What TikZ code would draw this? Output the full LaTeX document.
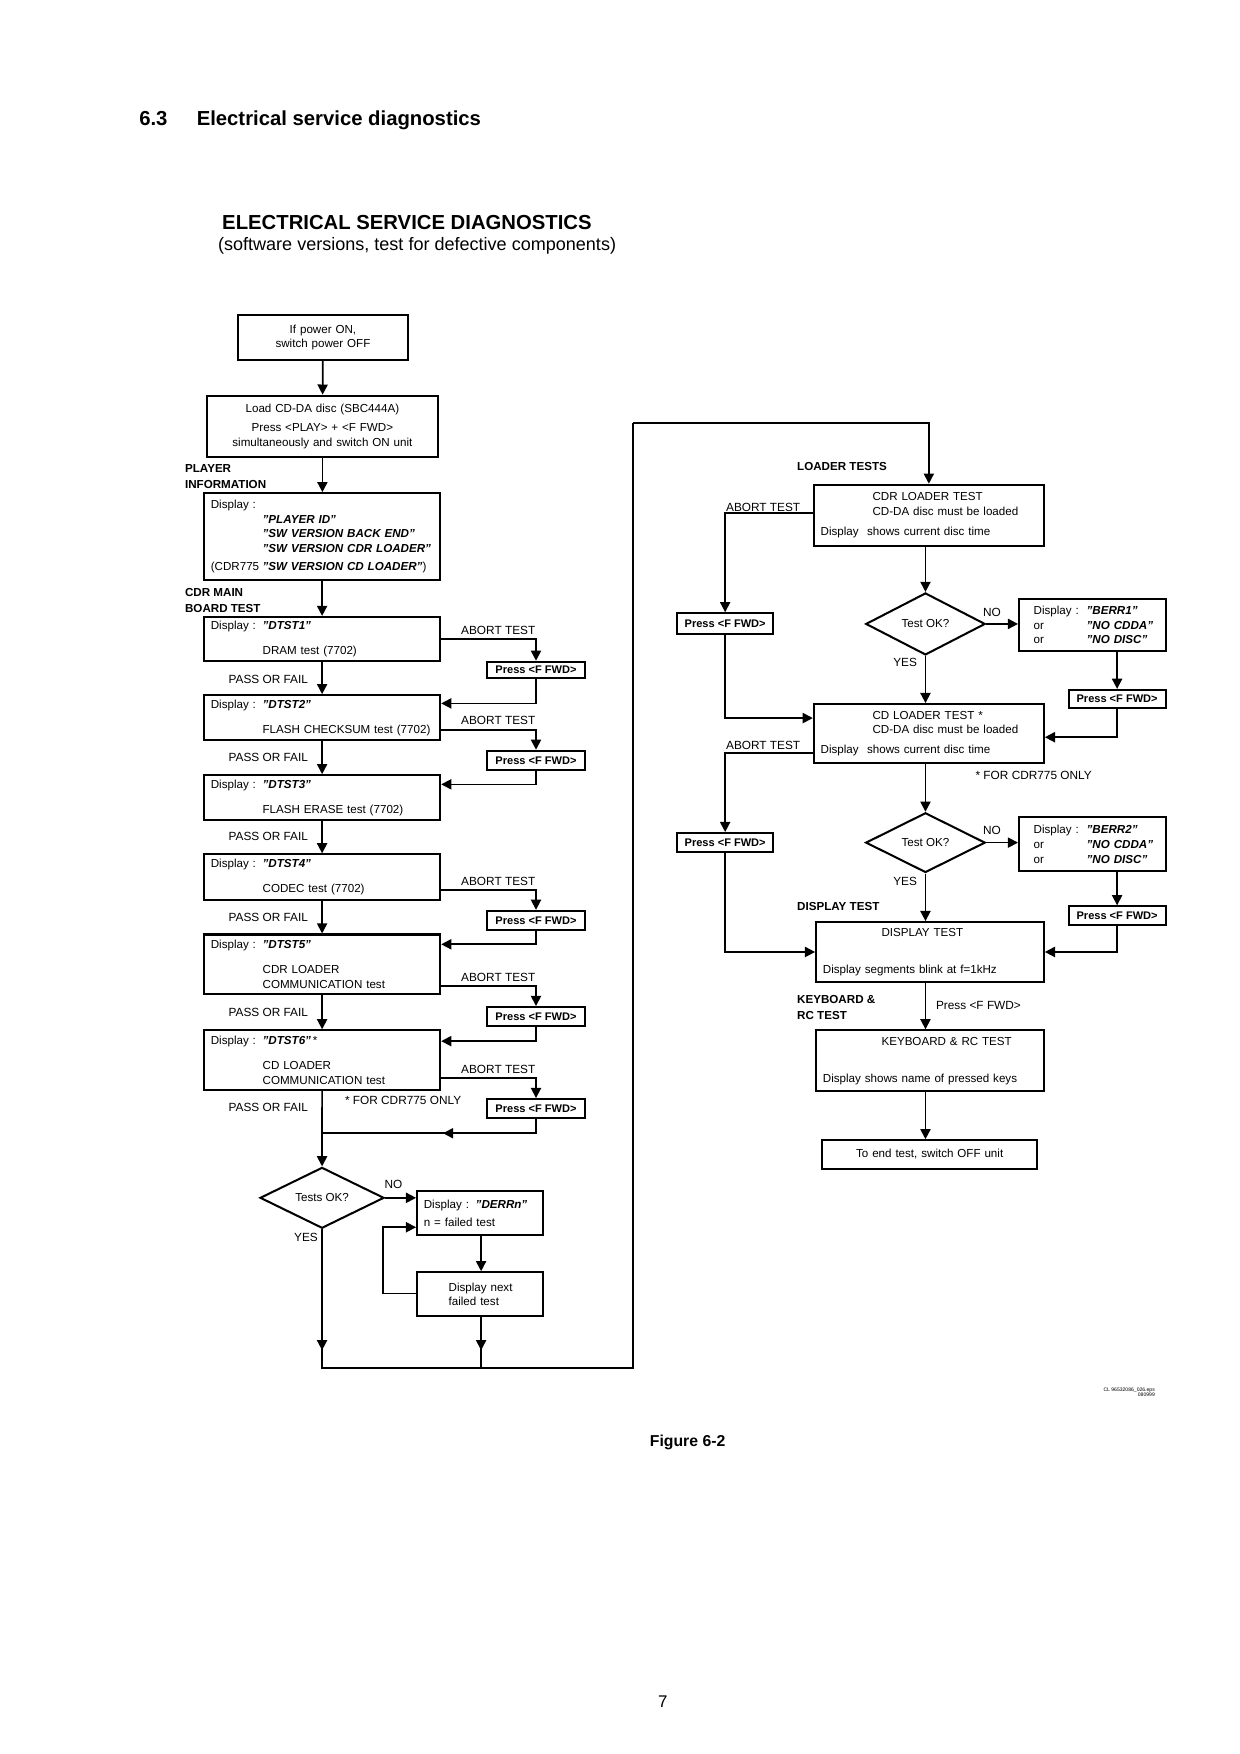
\documentclass[tikz,border=0pt]{standalone}
\usepackage{fontspec}
\setmainfont{Liberation Sans}
\usetikzlibrary{arrows.meta}
\usetikzlibrary{positioning,shapes.geometric,calc}
\tikzset{
    box/.style={
        draw,
        rectangle,
        line width=1.8pt,
        inner xsep=6pt,
        inner ysep=2pt,
        align=left,
        font=\fontsize{10.3}{13}\selectfont
    },
    pbox/.style={
        draw,
        rectangle,
        line width=1.8pt,
        inner sep=1pt,
        font=\bfseries\fontsize{9.8}{11}\selectfont
    },
    dec/.style={
        draw,
        diamond,
        aspect=2,
        line width=1.8pt,
        inner sep=0pt,
        font=\fontsize{10.3}{12}\selectfont
    },
    flow/.style={line width=1.5pt, -{Triangle[length=9pt,width=9pt]}},
    line/.style={line width=1.5pt},
    lbl/.style={font=\fontsize{10.5}{12}\selectfont, inner sep=0pt},
    blbl/.style={font=\bfseries\fontsize{10.3}{14.5}\selectfont, inner sep=0pt, align=left}
}
% box from (x1,y1) to (x2,y2)
\newcommand{\flbox}[7][]{%
    \pgfmathsetmacro{\bw}{#5-#3}\pgfmathsetmacro{\bh}{#6-#4}\pgfmathsetmacro{\tw}{#5-#3-12}%
    \node[box, minimum width=\bw pt, minimum height=\bh pt, text width=\tw pt, #1] (#2) at ({(#3+#5)/2},{(#4+#6)/2}) {#7};}
\newcommand{\qt}[1]{\textbf{\textit{"#1"}}}
\newcommand{\dsp}[2]{\makebox[46pt][l]{Display :}\qt{#1}\\[9pt]\hspace*{46pt}#2}
\newcommand{\berr}[1]{\hspace*{7pt}\makebox[47pt][l]{Display :}\qt{#1}\\ \hspace*{7pt}\makebox[47pt][l]{or}\qt{NO CDDA}\\ \hspace*{7pt}\makebox[47pt][l]{or}\qt{NO DISC}}

\begin{document}
\begin{tikzpicture}[x=1pt,y=-1pt]
    \useasboundingbox (0,0) rectangle (1100,1556);

    % Titles
    \node[anchor=west, font=\bfseries\fontsize{18}{20}\selectfont] (sec) at (120,107) {6.3\hspace{26pt}Electrical service diagnostics};
    \node[font=\bfseries\fontsize{18}{20}\selectfont] (head) at (361,197) {ELECTRICAL SERVICE DIAGNOSTICS};
    \node[font=\fontsize{16}{18}\selectfont] (sub) at (370,218) {(software versions, test for defective components)};

    % Left column
    \flbox[align=center]{pwr}{211}{279.5}{362}{319.5}{If power ON,\\ switch power OFF}
    \flbox[align=center]{load}{183.5}{351}{388.5}{405.5}{Load CD-DA disc (SBC444A)\\[4pt] Press <PLAY> + <F FWD>\\ simultaneously and switch ON unit}
    \flbox{pinfo}{181}{437.5}{390.5}{514.6}{Display :\\ \hspace*{46pt}\qt{PLAYER ID}\\ \hspace*{46pt}\qt{SW VERSION BACK END}\\ \hspace*{46pt}\qt{SW VERSION CDR LOADER}\\[3pt] (CDR775\hspace{3pt}\qt{SW VERSION CD LOADER})}
    \flbox{dt1}{181}{547.3}{390.5}{586.5}{\dsp{DTST1}{DRAM test (7702)}}
    \flbox{dt2}{181}{616.7}{390.5}{656.6}{\dsp{DTST2}{FLASH CHECKSUM test (7702)}}
    \flbox{dt3}{181}{687.7}{390.5}{727.6}{\dsp{DTST3}{FLASH ERASE test (7702)}}
    \flbox{dt4}{181}{757.9}{390.5}{798.6}{\dsp{DTST4}{CODEC test (7702)}}
    \flbox{dt5}{181}{829}{390.5}{882}{\dsp{DTST5}{CDR LOADER\\ \hspace*{46pt}COMMUNICATION test}}
    \flbox{dt6}{181}{914}{390.5}{967}{\makebox[46pt][l]{Display :}\qt{DTST6}\,*\\[9pt]\hspace*{46pt}CD LOADER\\ \hspace*{46pt}COMMUNICATION test}

    \node[pbox, minimum width=87pt, minimum height=14.7pt] (pa1) at (475.5,594.4) {Press <F FWD>};
    \node[pbox, minimum width=87pt, minimum height=17pt] (pa2) at (475.5,674.5) {Press <F FWD>};
    \node[pbox, minimum width=87pt, minimum height=17pt] (pa4) at (475.5,816.5) {Press <F FWD>};
    \node[pbox, minimum width=87pt, minimum height=16.7pt] (pa5) at (475.5,901.7) {Press <F FWD>};
    \node[pbox, minimum width=87pt, minimum height=17pt] (pa6) at (475.5,983.5) {Press <F FWD>};

    \node[blbl, anchor=west] (lpi) at (164,422.5) {PLAYER\\INFORMATION};
    \node[blbl, anchor=west] (lcm) at (164,532.5) {CDR MAIN\\BOARD TEST};
    \foreach \y in {603,671.5,741.6,813.5,897.8,982.6}
        \node[lbl] at (238,\y) {PASS OR FAIL};
    \foreach \y in {559,639.5,781.7,866.9,948.5}
        \node[lbl] at (442,\y) {ABORT TEST};
    \node[lbl] (n6) at (357.6,976) {* FOR CDR775 ONLY};

    \draw[flow] (pwr) -- (load);
    \draw[flow] (load) -- (pinfo.north -| load.south);
    \draw[flow] (pinfo) -- (dt1);
    \draw[flow] (dt1) -- (dt2);
    \draw[flow] (dt2) -- (dt3);
    \draw[flow] (dt3) -- (dt4);
    \draw[flow] (dt4) -- (dt5);
    \draw[flow] (dt5) -- (dt6);

    % abort branches
    \draw[flow] (dt1.east |- 0,567) -| (pa1.north);
    \draw[flow] (pa1.south) |- (dt2.east |- 0,624);
    \draw[flow] (dt2.east |- 0,647.7) -| (pa2.north);
    \draw[flow] (pa2.south) |- (dt3.east |- 0,695.8);
    \draw[flow] (dt4.east |- 0,789.7) -| (pa4.north);
    \draw[flow] (pa4.south) |- (dt5.east |- 0,837.7);
    \draw[flow] (dt5.east |- 0,874.6) -| (pa5.north);
    \draw[flow] (pa5.south) |- (dt6.east |- 0,923.6);
    \draw[flow] (dt6.east |- 0,956.6) -| (pa6.north);
    \coordinate (j6) at (286.6,1005.3);
    \draw[line] (pa6.south) |- (j6);
    \draw[flow] (pa6.south) |- (393,1005.3);

    % final check
    \node[dec, minimum width=110pt, minimum height=54pt] (tok) at (285.7,1062.6) {Tests OK?};
    \draw[flow] (dt6) -- (tok);
    \flbox{derr}{370}{1056.8}{481.8}{1095.8}{\makebox[46pt][l]{Display :}\qt{DERRn}\\[3pt] n = failed test}
    \flbox{dnext}{370}{1128.6}{481.8}{1167.7}{\hspace*{22pt}Display next\\ \hspace*{22pt}failed test}
    \draw[flow] (tok.east) -- (tok.east -| derr.west);
    \node[lbl] (no0) at (349,1050.6) {NO};
    \node[lbl] (yes0) at (271.5,1097.7) {YES};
    \draw[flow] (derr.south -| 426.8,0) -- (dnext.north -| 426.8,0);
    \draw[flow] (dnext.west |- 0,1147.5) -- (339.8,1147.5) |- (derr.west |- 0,1088.7);

    \coordinate (c1) at (285.7,1213.8);
    \coordinate (c2) at (561.7,1213.8);
    \coordinate (c3) at (561.7,375);
    \coordinate (c4) at (426.8,1213.8);
    \draw[line] (tok.south) -- (c1) -- (c2) -- (c3);
    \draw[flow] (tok.south) -- ([yshift=16pt]c1);
    \draw[line] (dnext.south -| c4) -- (c4);
    \draw[flow] (dnext.south -| c4) -- ([yshift=16pt]c4);

    % Right column
    \flbox{cdrl}{722}{430}{926}{484}{\hspace*{46pt}CDR LOADER TEST\\ \hspace*{46pt}CD-DA disc must be loaded\\[5pt] Display\hspace{4pt} shows current disc time}
    \flbox{cdl}{722}{624.6}{926}{677}{\hspace*{46pt}CD LOADER TEST *\\ \hspace*{46pt}CD-DA disc must be loaded\\[5pt] Display\hspace{4pt} shows current disc time}
    \flbox{dsp}{724}{818}{926}{871}{\hspace*{52pt}DISPLAY TEST\\[20pt] Display segments blink at f=1kHz}
    \flbox{kbd}{724}{914}{926}{968}{\hspace*{52pt}KEYBOARD \& RC TEST\\[20pt] Display shows name of pressed keys}
    \flbox[align=center]{endb}{729.5}{1011.5}{920}{1036.7}{To end test, switch OFF unit}
    \draw[flow] (c3) -| (cdrl.north);

    \node[dec, minimum width=106pt, minimum height=55pt] (tok1) at (821,553.5) {Test OK?};
    \node[dec, minimum width=106pt, minimum height=53pt] (tok2) at (821,747.5) {Test OK?};
    \flbox{berr1}{904}{531.5}{1034}{577.6}{\berr{BERR1}}
    \flbox{berr2}{904}{725}{1034}{773}{\berr{BERR2}}
    \node[pbox, minimum width=86pt, minimum height=16pt] (pr1) at (991,620) {Press <F FWD>};
    \node[pbox, minimum width=86pt, minimum height=17pt] (pr2) at (991,812.5) {Press <F FWD>};
    \node[pbox, minimum width=85.5pt, minimum height=18pt] (pl1) at (643.3,553) {Press <F FWD>};
    \node[pbox, minimum width=85.5pt, minimum height=17pt] (pl2) at (643.3,747.5) {Press <F FWD>};

    \node[blbl, anchor=west] (llt) at (707,414) {LOADER TESTS};
    \node[blbl, anchor=west] (ldt) at (707,804) {DISPLAY TEST};
    \node[blbl, anchor=west] (lkb) at (707,893.5) {KEYBOARD \&\\RC TEST};
    \node[lbl] at (677,450) {ABORT TEST};
    \node[lbl] at (677,661) {ABORT TEST};
    \node[lbl] (n2) at (917,688) {* FOR CDR775 ONLY};
    \node[lbl] at (880,543) {NO};
    \node[lbl] at (880,736.5) {NO};
    \node[lbl] at (803,588) {YES};
    \node[lbl] at (803,782) {YES};
    \node[lbl] (pk) at (868,892) {Press <F FWD>};

    \draw[flow] (cdrl.south -| tok1.north) -- (tok1);
    \draw[flow] (tok1.east) -- (tok1.east -| berr1.west);
    \draw[flow] (berr1.south -| pr1.north) -- (pr1);
    \draw[flow] (pr1.south) |- (cdl.east |- 0,654);
    \draw[flow] (tok1) -- (cdl.north -| tok1.south);
    \draw[flow] (cdrl.west |- 0,455) -| (pl1.north);
    \draw[flow] (pl1.south) |- (cdl.west |- 0,637);
    \draw[flow] (cdl.south -| tok2.north) -- (tok2);
    \draw[flow] (tok2.east) -- (tok2.east -| berr2.west);
    \draw[flow] (berr2.south -| pr2.north) -- (pr2);
    \draw[flow] (cdl.west |- 0,668) -| (pl2.north);
    \draw[flow] (pl2.south) |- (dsp.west |- 0,844.5);
    \draw[flow] (pr2.south) |- (dsp.east |- 0,844.5);
    \draw[flow] (tok2) -- (dsp.north -| tok2.south);
    \draw[flow] (dsp.south -| tok2.south) -- (kbd.north -| tok2.south);
    \draw[flow] (kbd.south -| tok2.south) -- (endb.north -| tok2.south);

    % Footer
    \node[font=\fontsize{4.5}{5}\selectfont, align=right, anchor=east] (ref) at (1028,1235) {CL 96532086\_026.eps\\080999};
    \node[font=\bfseries\fontsize{14}{16}\selectfont] (fig) at (610,1280) {Figure 6-2};
    \node[font=\fontsize{15}{16}\selectfont] (pg) at (588,1510) {7};
\end{tikzpicture}
\end{document}
